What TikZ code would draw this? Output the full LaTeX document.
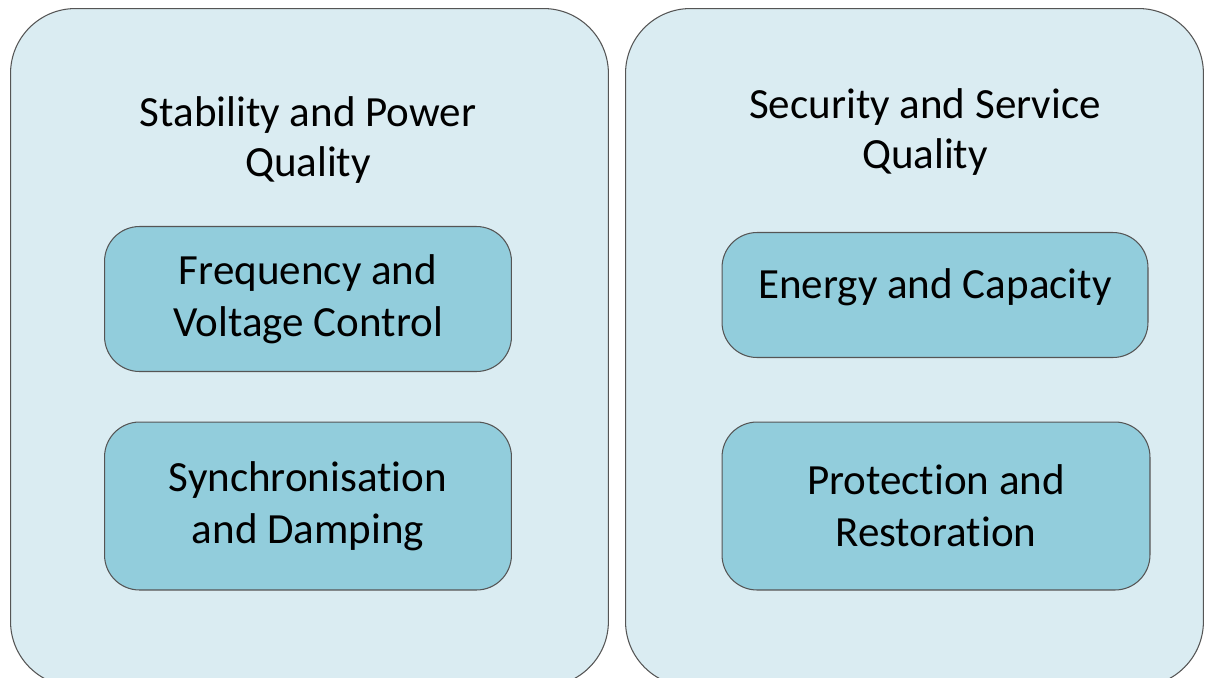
\documentclass[tikz,border=0pt]{standalone}
\usepackage{fontspec}
\setmainfont{Carlito}[Ligatures=NoCommon]
\usepackage{xcolor}
\usetikzlibrary{positioning}
\definecolor{paleaqua}{RGB}{218,236,242}
\definecolor{aquafill}{RGB}{146,205,220}
\definecolor{edgegray}{RGB}{85,85,85}

\begin{document}
\begin{tikzpicture}[
  x=0.02cm, y=-0.02cm,
  % --- node styles ---
  group/.style={
    draw=edgegray, line width=0.6pt, fill=paleaqua, rounded corners=1.3cm,
    minimum width=11.96cm, minimum height=13.56cm, anchor=north west
  },
  heading/.style={
    font=\fontsize{24.5}{29}\selectfont, align=center, text=black
  },
  item/.style={
    draw=edgegray, line width=0.6pt, fill=aquafill, rounded corners=0.7cm,
    font=\fontsize{24.5}{29.5}\selectfont, align=center, text=black
  },
]
\useasboundingbox (0,0) rectangle (1210,677);
\clip (0,0) rectangle (1210,677);
\fill[white] (0,0) rectangle (1210,677);

% Two column panels
\node[group] (stab) at (10,8) {};
\node[group, minimum width=11.56cm] (secu) at (625,8) {};

% Panel headings
\node[heading] (stabtitle) at (308,140) {Stability and Power\\Quality};
\node[heading] (secutitle) at (925,132) {Security and Service\\Quality};

% Left column items
\node[item, minimum width=8.14cm, minimum height=2.9cm] (freq) at (308,299) {Frequency and\\Voltage Control};
\node[item, minimum width=8.14cm, minimum height=3.36cm] (sync) at (308,506) {Synchronisation\\and Damping};

% Right column items
\node[item, minimum width=8.52cm, minimum height=2.5cm] (energy) at (935,295) {\raisebox{0.44cm}{Energy and Capacity}};
\node[item, minimum width=8.56cm, minimum height=3.36cm] (prot) at (936,506) {Protection and\\Restoration};

\end{tikzpicture}
\end{document}
